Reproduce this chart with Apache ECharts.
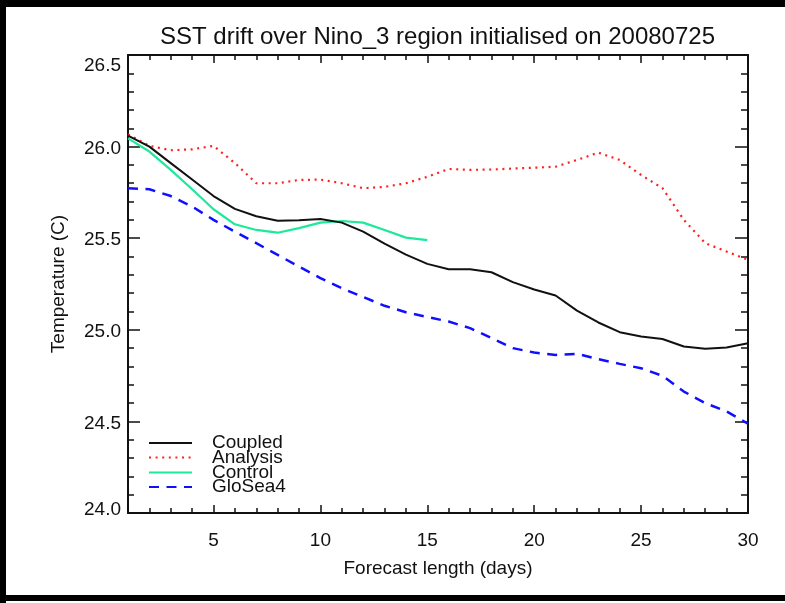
<!DOCTYPE html>
<html>
<head>
<meta charset="utf-8">
<script src="https://cdn.jsdelivr.net/npm/echarts@6/dist/echarts.min.js"></script>
<style>
html,body{margin:0;padding:0;background:#fff;}
#chart{width:785px;height:603px;}
</style>
</head>
<body>
<div id="chart"></div>
<script>
const days = [1,2,3,4,5,6,7,8,9,10,11,12,13,14,15,16,17,18,19,20,21,22,23,24,25,26,27,28,29,30];
const coupled = [26.06,26.00,25.91,25.82,25.73,25.66,25.62,25.595,25.598,25.605,25.585,25.536,25.47,25.41,25.36,25.331,25.33,25.314,25.26,25.22,25.187,25.105,25.04,24.987,24.963,24.95,24.909,24.896,24.903,24.927];
const analysis = [26.067,26.004,25.98,25.985,26.004,25.91,25.80,25.80,25.818,25.82,25.80,25.773,25.78,25.80,25.835,25.878,25.873,25.875,25.88,25.885,25.89,25.927,25.967,25.927,25.845,25.773,25.60,25.473,25.427,25.382];
const control = [26.045,25.973,25.873,25.767,25.658,25.576,25.545,25.53,25.555,25.585,25.594,25.585,25.545,25.503,25.49];
const glosea4 = [25.773,25.767,25.73,25.673,25.60,25.536,25.473,25.409,25.345,25.282,25.227,25.179,25.131,25.096,25.07,25.045,25.009,24.955,24.90,24.876,24.863,24.869,24.84,24.814,24.79,24.749,24.663,24.60,24.554,24.487];

const xMajorTicks = [5,10,15,20,25,30];
const xMinorTicks = [1,2,3,4,5,6,7,8,9,10,11,12,13,14,15,16,17,18,19,20,21,22,23,24,25,26,27,28,29,30];
const yMajorTicks = [24.0,24.5,25.0,25.5,26.0,26.5];
const yMinorTicks = [24.0,24.1,24.2,24.3,24.4,24.5,24.6,24.7,24.8,24.9,25.0,25.1,25.2,25.3,25.4,25.5,25.6,25.7,25.8,25.9,26.0,26.1,26.2,26.3,26.4,26.5];

const FONT = '"Liberation Sans", Arial, Helvetica, sans-serif';
const pairs = (arr) => arr.map((v, i) => [days[i], v]);

function xAx(pos, ticks, len, main) {
  return {
    type: 'value', position: pos, min: 1, max: 30,
    splitLine: {show: false},
    axisLine: {show: main, onZero: false, lineStyle: {color: '#111', width: 2}},
    axisTick: {show: true, inside: true, length: len, customValues: ticks, lineStyle: {color: '#111', width: 1.5}},
    axisLabel: (pos === 'bottom' && main) ? {
      show: true, customValues: xMajorTicks, margin: 18, color: '#111',
      fontSize: 19, fontFamily: FONT
    } : {show: false},
    name: (pos === 'bottom' && main) ? 'Forecast length (days)' : '',
    nameLocation: 'middle', nameGap: 46,
    nameTextStyle: {fontSize: 19, fontFamily: FONT, color: '#111'}
  };
}
function yAx(pos, ticks, len, main) {
  return {
    type: 'value', position: pos, min: 24, max: 26.5,
    splitLine: {show: false},
    axisLine: {show: main, onZero: false, lineStyle: {color: '#111', width: 2}},
    axisTick: {show: true, inside: true, length: len, customValues: ticks, lineStyle: {color: '#111', width: 1.5}},
    axisLabel: (pos === 'left' && main) ? {
      show: true, customValues: yMajorTicks, margin: 7, color: '#111',
      fontSize: 19, fontFamily: FONT,
      formatter: function (v) {
        const s = Number(v).toFixed(1);
        if (Math.abs(v - 26.5) < 1e-6) return '{a|' + s + '}';
        if (Math.abs(v - 24) < 1e-6) return '{b|' + s + '}';
        return '{c|' + s + '}';
      },
      rich: {
        a: {fontSize: 19, fontFamily: FONT, color: '#111', padding: [22, 0, 0, 0]},
        b: {fontSize: 19, fontFamily: FONT, color: '#111', padding: [0, 0, 6, 0]},
        c: {fontSize: 19, fontFamily: FONT, color: '#111', padding: [4, 0, 0, 0]}
      }
    } : {show: false},
    name: (pos === 'left' && main) ? 'Temperature (C)' : '',
    nameLocation: 'middle', nameGap: 60,
    nameTextStyle: {fontSize: 19, fontFamily: FONT, color: '#111'}
  };
}

function leg(name, top) {
  return {
    data: [name], left: 148, top: top, orient: 'vertical', padding: 0,
    itemWidth: 43, itemHeight: 14, selectedMode: false,
    itemStyle: {opacity: 0},
    textStyle: {fontSize: 19, fontFamily: FONT, color: '#111', lineHeight: 20, padding: [0, 0, 8, 15]}
  };
}

const chart = echarts.init(document.getElementById('chart'), null, {renderer: 'canvas'});
chart.setOption({
  animation: false,
  backgroundColor: '#fff',
  title: {
    text: 'SST drift over Nino_3 region initialised on 20080725',
    left: 160, top: 25, padding: 0,
    textStyle: {fontSize: 24, fontWeight: 'normal', fontFamily: FONT, color: '#111'}
  },
  graphic: [
    {type: 'rect', shape: {x: 0, y: 0, width: 6, height: 603}, style: {fill: '#000'}, silent: true},
    {type: 'rect', shape: {x: 0, y: 0, width: 785, height: 7}, style: {fill: '#000'}, silent: true},
    {type: 'rect', shape: {x: 0, y: 595, width: 785, height: 6}, style: {fill: '#000'}, silent: true}
  ],
  grid: {left: 128, right: 37, top: 55, bottom: 90, containLabel: false},
  xAxis: [
    xAx('bottom', xMajorTicks, 8, true),
    xAx('bottom', xMinorTicks, 5, false),
    xAx('top', xMajorTicks, 8, true),
    xAx('top', xMinorTicks, 5, false)
  ],
  yAxis: [
    yAx('left', yMajorTicks, 12, true),
    yAx('left', yMinorTicks, 6, false),
    yAx('right', yMajorTicks, 13, true),
    yAx('right', yMinorTicks, 7, false)
  ],
  legend: [
    leg('Coupled', 429),
    leg('Analysis', 443.5),
    leg('Control', 458.5),
    leg('GloSea4', 473)
  ],
  series: [
    {name: 'Analysis', type: 'line', data: pairs(analysis), symbol: 'none', z: 2,
     lineStyle: {color: '#ff2020', width: 2.2, type: [2, 4.6]}, itemStyle: {color: '#ff2020'}},
    {name: 'GloSea4', type: 'line', data: pairs(glosea4), symbol: 'none', z: 2,
     lineStyle: {color: '#1010ff', width: 2.5, type: [10, 7.5]}, itemStyle: {color: '#1010ff'}},
    {name: 'Control', type: 'line', data: pairs(control), symbol: 'none', z: 3,
     lineStyle: {color: '#1de99b', width: 2.2}, itemStyle: {color: '#1de99b'}},
    {name: 'Coupled', type: 'line', data: pairs(coupled), symbol: 'none', z: 4,
     lineStyle: {color: '#111', width: 2}, itemStyle: {color: '#111'}}
  ]
});
</script>
</body>
</html>
